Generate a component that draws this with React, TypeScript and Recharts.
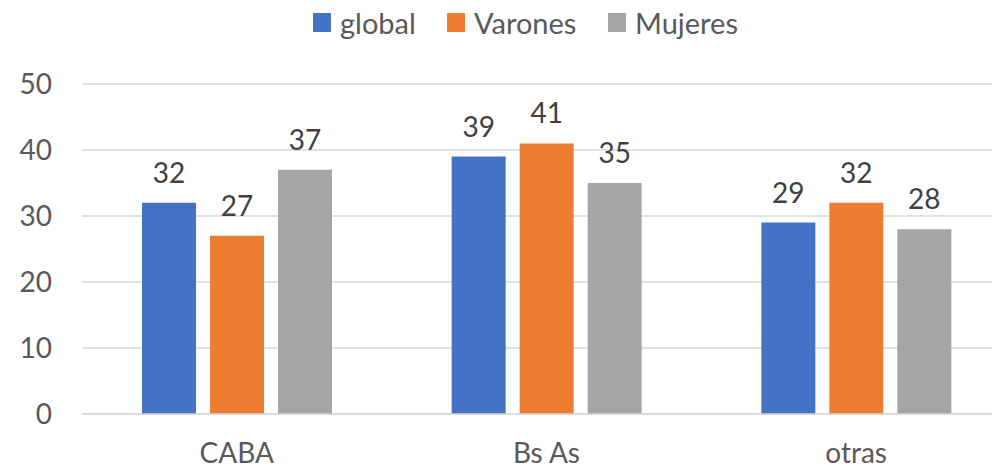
import { Bar, BarChart, CartesianGrid, LabelList, Legend, XAxis, YAxis } from 'recharts';

// categorías y valores
const regiones = ['CABA', 'Bs As', 'otras'];
const global = [32, 39, 29];
const varones = [27, 41, 32];
const mujeres = [37, 35, 28];
const yTicks = [0, 10, 20, 30, 40, 50];

const data = regiones.map((r, i) => ({
  region: r,
  global: global[i],
  Varones: varones[i],
  Mujeres: mujeres[i],
}));

// ancho de cada entrada de leyenda para calzar con el original (Calibri es más ancha que Lato)
const SERIES = [
  { key: 'global', color: '#4472C4', w: 134 },
  { key: 'Varones', color: '#ED7D31', w: 161 },
  { key: 'Mujeres', color: '#A5A5A5', w: 140 },
];

const FONT = 'Lato, "Noto Sans", sans-serif';
const TEXT = '#595959';

function LegendRow() {
  return (
    <div style={{ display: 'flex', alignItems: 'center', height: 44, fontFamily: FONT, fontSize: 29, color: TEXT }}>
      {SERIES.map((s) => (
        <div key={s.key} style={{ display: 'flex', alignItems: 'center', width: s.w }}>
          <span style={{ width: 18, height: 19, background: s.color, display: 'inline-block', marginRight: 9 }} />
          <span>{s.key}</span>
        </div>
      ))}
    </div>
  );
}

export default function App() {
  return (
    <div style={{ position: 'fixed', left: 0, top: 0, width: 992, height: 469, overflow: 'hidden', background: '#fff' }}>
      <BarChart
        width={1030}
        height={469}
        data={data}
        margin={{ top: 40, right: 19, bottom: 5, left: 0 }}
        barSize={54}
        barGap={14}
      >
        <CartesianGrid vertical={false} stroke="#D9D9D9" strokeWidth={1.5} />
        <XAxis
          dataKey="region"
          height={50}
          tickSize={0}
          tickMargin={29}
          axisLine={{ stroke: '#D9D9D9', strokeWidth: 1.5 }}
          tickLine={false}
          tick={{ fill: TEXT, fontSize: 28, fontFamily: FONT }}
        />
        <YAxis
          width={82}
          domain={[0, 50]}
          ticks={yTicks}
          axisLine={false}
          tickLine={false}
          tickSize={0}
          tickMargin={30}
          tick={{ fill: TEXT, fontSize: 28, fontFamily: FONT }}
        />
        <Legend
          verticalAlign="top"
          content={<LegendRow />}
          wrapperStyle={{ position: 'absolute', top: 0, left: 313, width: 500, height: 44 }}
        />
        {SERIES.map((s) => (
          <Bar key={s.key} dataKey={s.key} fill={s.color} isAnimationActive={false}>
            <LabelList dataKey={s.key} position="top" offset={20} fill="#404040" fontSize={28} fontFamily={FONT} />
          </Bar>
        ))}
      </BarChart>
    </div>
  );
}
